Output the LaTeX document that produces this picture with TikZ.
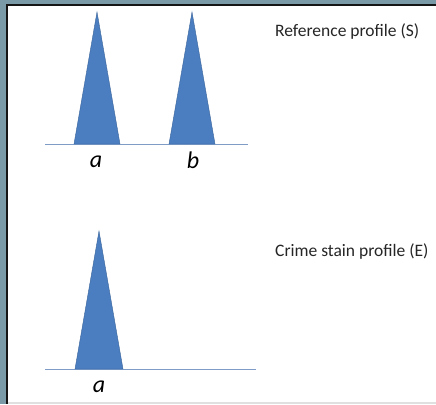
\documentclass[tikz,border=0pt]{standalone}
\usepackage{fontspec}
\setmainfont{Carlito}
\definecolor{bgside}{HTML}{7A9AA8}
\definecolor{peakblue}{HTML}{4A7EC0}
\definecolor{baseblue}{HTML}{7E9CC6}
\definecolor{frameblack}{HTML}{151515}
\tikzset{
  peak/.style={fill=peakblue, draw=peakblue!80!black, line width=0.4pt},
  baseline/.style={draw=baseblue, line width=1pt},
  allele/.style={font=\itshape\fontsize{24}{24}\selectfont, inner sep=0pt},
  caption/.style={font=\fontsize{17.5}{18}\selectfont, anchor=west, inner sep=0pt, text=black!85}
}
\begin{document}
\begin{tikzpicture}[x=1pt,y=-1pt]
\useasboundingbox (0,0) rectangle (436,404);
\fill[bgside] (0,0) rectangle (436,404);
\fill[frameblack] (6,4) rectangle (436,404);
\fill[white] (8,6) rectangle (436,402);
\fill[black!12] (8,402) rectangle (436,404);
% top profile
\coordinate (tl) at (45,144);
\coordinate (tr) at (248,144);
\draw[baseline] (tl) -- (tr);
\fill[peak] (74,144) -- (97,12) -- (120,144) -- cycle;
\fill[peak] (169,144) -- (192,12) -- (215,144) -- cycle;
\node[allele] (la) at (96,162) {a};
\node[allele] (lb) at (193,160) {b};
\node[caption] (cs) at (275,32) {Reference profile (S)};
% bottom profile
\coordinate (bl) at (45,369);
\coordinate (br) at (256,369);
\draw[baseline] (bl) -- (br);
\fill[peak] (75,369) -- (99,231) -- (123,369) -- cycle;
\node[allele] (la2) at (99,387) {a};
\node[caption] (ce) at (275,252) {Crime stain profile (E)};
\end{tikzpicture}
\end{document}
